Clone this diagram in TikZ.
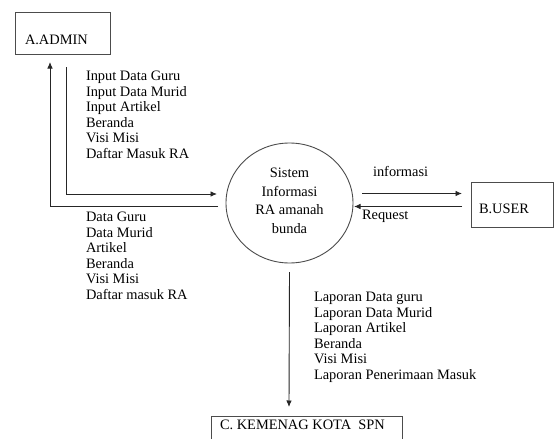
\documentclass[tikz,border=0pt]{standalone}
\usepackage{fontspec}
\setmainfont{Liberation Serif}
\usetikzlibrary{arrows.meta,shapes.geometric}
\begin{document}
\begin{tikzpicture}[x=1pt,y=-1pt,
  every node/.style={inner sep=0pt, outer sep=0pt},
  txt/.style={font=\rmfamily\fontsize{14.4}{15.6}\selectfont, align=left, anchor=north west},
  lbl/.style={font=\rmfamily\fontsize{14.4}{15.6}\selectfont, anchor=west},
  ent/.style={draw=black!70, line width=0.9pt, rectangle, anchor=north west},
  proc/.style={draw=black!70, line width=0.9pt, ellipse, minimum width=127pt, minimum height=120pt},
  arr/.style={draw=black!85, line width=0.9pt, -{Latex[length=6.5pt,width=5.5pt]}}]
\useasboundingbox (0,0) rectangle (555,439);
\fill[white] (0,0) rectangle (555,439);

% entities
\node[ent, minimum width=95pt, minimum height=41.3pt] (admin) at (15.7,12.7) {};
\node[lbl] (admint) at (25,40) {A.ADMIN};
\node[ent, minimum width=82pt, minimum height=45pt] (user) at (471,182) {};
\node[lbl] (usert) at (479,209) {B.USER};
\node[ent, minimum width=191pt, minimum height=40pt] (kem) at (211,416) {};
\node[lbl] (kemt) at (220,425) {C. KEMENAG KOTA\ \ SPN};

% process
\node[proc] (sys) at (289.5,203) {};
\node[font=\rmfamily\fontsize{14.4}{18.5}\selectfont, align=center] (syst) at (289.5,201) {Sistem\\Informasi\\RA amanah\\bunda};

% flows
\draw[arr] ([shift={(-8pt,-3.5pt)}]sys.west) -| ([shift={(-13.2pt,-8pt)}]admin.south);
\draw[arr] ([shift={(2.8pt,-13pt)}]admin.south) |- ([shift={(-9pt,9pt)}]sys.west);
\draw[arr] ([shift={(9pt,9.5pt)}]sys.east) -- ([shift={(-9pt,11pt)}]user.west);
\draw[arr] ([shift={(-9pt,-2pt)}]user.west) -- ([shift={(1pt,-3.5pt)}]sys.east);
\draw[arr] ([shift={(0pt,-9pt)}]sys.south) -- ([shift={(-17.5pt,9pt)}]kem.north);

% flow labels
\node[txt] (in) at (86,71) {Input Data Guru\\Input Data Murid\\Input Artikel\\Beranda\\Visi Misi\\Daftar Masuk RA};
\node[txt] (out) at (86,212) {Data Guru\\Data Murid\\Artikel\\Beranda\\Visi Misi\\Daftar masuk RA};
\node[txt] (lap) at (314,292) {Laporan Data guru\\Laporan Data Murid\\Laporan Artikel\\Beranda\\Visi Misi\\Laporan Penerimaan Masuk};
\node[lbl] (info) at (373,171) {informasi};
\node[lbl] (req) at (362,216) {Request};
\end{tikzpicture}
\end{document}
